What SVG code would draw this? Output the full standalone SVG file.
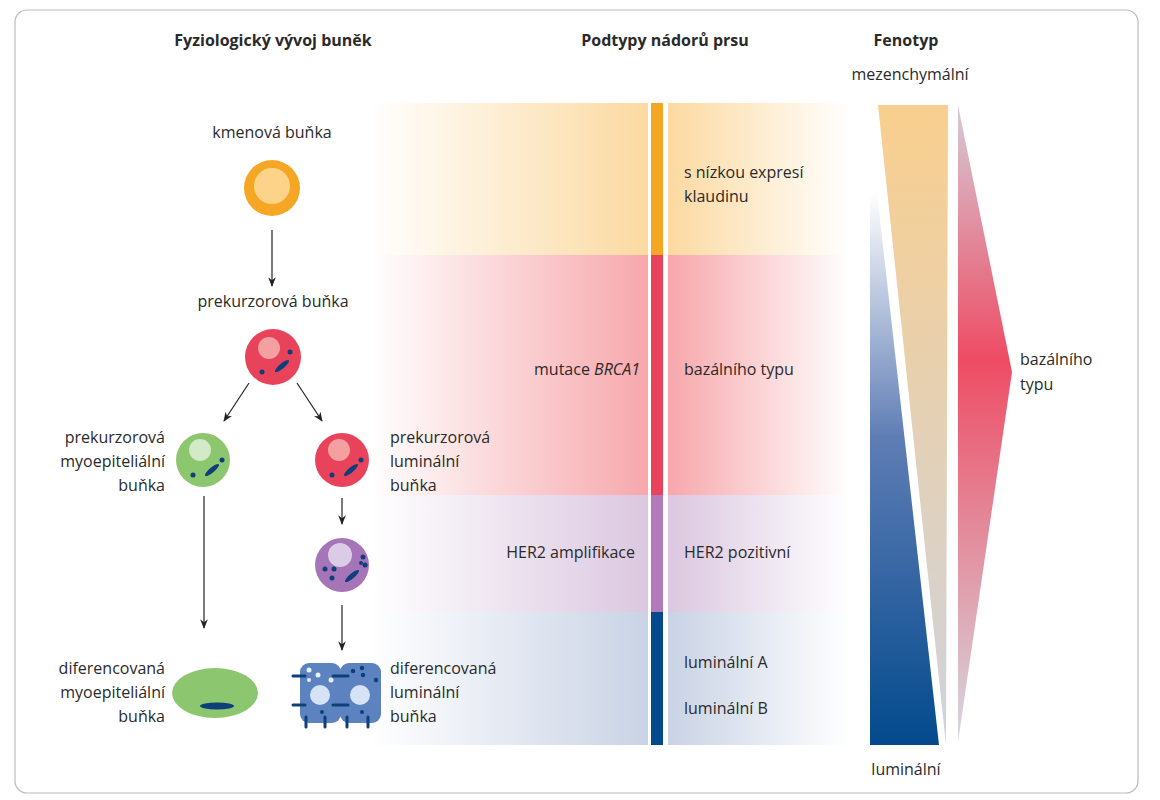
<svg xmlns="http://www.w3.org/2000/svg" width="1160" height="800" viewBox="0 0 1160 800">
<style>
text{font-family:"Open Sans","Liberation Sans",sans-serif;font-size:16px;fill:#2a2a2a}
.h{font-weight:bold;font-size:16px}
.ar{stroke:#222;stroke-width:1.2;fill:none;marker-end:url(#ah)}
.dot{fill:#0d3f7a}
</style>
<defs>
<marker id="ah" viewBox="0 0 10 10" refX="9" refY="5" markerWidth="8" markerHeight="8" orient="auto"><path d="M0,1 L10,5 L0,9 L3,5Z" fill="#222"/></marker>
<linearGradient id="fin" x1="0" x2="1"><stop offset="0" stop-color="#fff" stop-opacity="1"/><stop offset="1" stop-color="#fff" stop-opacity="0"/></linearGradient>
<linearGradient id="fout" x1="0" x2="1"><stop offset="0" stop-color="#fff" stop-opacity="0"/><stop offset="1" stop-color="#fff" stop-opacity="1"/></linearGradient>
<linearGradient id="gOr" x1="0" y1="0" x2="0" y2="1"><stop offset="0" stop-color="#f9cf8e"/><stop offset="1" stop-color="#cfd2dc"/></linearGradient>
<linearGradient id="gBl" x1="0" y1="0" x2="0" y2="1"><stop offset="0.1" stop-color="#fff"/><stop offset="0.5" stop-color="#5f7db5"/><stop offset="1" stop-color="#034a8d"/></linearGradient>
<linearGradient id="gRd" x1="0" y1="0" x2="0" y2="1"><stop offset="0" stop-color="#d5cbd6"/><stop offset="0.4" stop-color="#ee4c64"/><stop offset="1" stop-color="#d6d8df"/></linearGradient>
</defs>
<rect x="15" y="10" width="1123" height="783" rx="12" fill="#fff" stroke="#bbb" stroke-width="1.2"/>
<g id="bands">
<rect x="370" y="103" width="480" height="152" fill="#fcd9a0"/>
<rect x="370" y="255" width="480" height="240" fill="#f7a7ab"/>
<rect x="370" y="495" width="480" height="117" fill="#dbc7e0"/>
<rect x="370" y="612" width="480" height="133" fill="#c9d3e5"/>
<rect x="370" y="103" width="280" height="642" fill="url(#fin)"/>
<rect x="668" y="103" width="182" height="642" fill="url(#fout)"/>
<rect x="648" y="103" width="20" height="642" fill="#fff"/>
<rect x="651" y="103" width="12" height="152" fill="#f5a623"/>
<rect x="651" y="255" width="12" height="240" fill="#e8435a"/>
<rect x="651" y="495" width="12" height="117" fill="#b27ab8"/>
<rect x="651" y="612" width="12" height="133" fill="#034a8d"/>
</g>
<g id="fenotyp">
<polygon points="878,105 948,105 946,745" fill="url(#gOr)"/>
<polygon points="870,130 939,745 870,745" fill="url(#gBl)"/>
<polygon points="958,105 1012,372 958,742" fill="url(#gRd)"/>
</g>
<g id="headers">
<text class="h" x="273" y="46" text-anchor="middle">Fyziologický vývoj buněk</text>
<text class="h" x="665" y="46" text-anchor="middle">Podtypy nádorů prsu</text>
<text class="h" x="906" y="46" text-anchor="middle">Fenotyp</text>
<text x="910" y="80" text-anchor="middle">mezenchymální</text>
<text x="906" y="775" text-anchor="middle">luminální</text>
<text x="1020" y="365">bazálního</text>
<text x="1020" y="390">typu</text>
</g>
<g id="subtypes">
<text x="684" y="178">s nízkou expresí</text>
<text x="684" y="202">klaudinu</text>
<text x="684" y="375">bazálního typu</text>
<text x="684" y="558">HER2 pozitivní</text>
<text x="684" y="668">luminální A</text>
<text x="684" y="714">luminální B</text>
<text x="640" y="375" text-anchor="end">mutace <tspan font-style="italic">BRCA1</tspan></text>
<text x="635" y="558" text-anchor="end">HER2 amplifikace</text>
</g>
<g id="stem">
<text x="272" y="138" text-anchor="middle">kmenová buňka</text>
<circle cx="272" cy="188" r="28" fill="#f5a623"/><circle cx="272" cy="186" r="18" fill="#fdd38a"/>
</g>
<g id="precursor">
<text x="273" y="307" text-anchor="middle">prekurzorová buňka</text>
<circle cx="273" cy="357" r="28" fill="#e8435a"/><circle cx="269" cy="348" r="11" fill="#f5a0a0"/>
<circle class="dot" cx="262" cy="372" r="2.5"/><circle class="dot" cx="290" cy="352" r="2.5"/>
<ellipse class="dot" cx="282" cy="366" rx="9" ry="2.5" transform="rotate(-40 282 366)"/>
</g>
<g id="myoprec">
<text x="165" y="443" text-anchor="end">prekurzorová</text><text x="165" y="467" text-anchor="end">myoepiteliální</text><text x="165" y="491" text-anchor="end">buňka</text>
<circle cx="203" cy="460" r="27" fill="#8cc66e"/><circle cx="200" cy="450" r="11" fill="#d3e9c8"/>
<circle class="dot" cx="193" cy="475" r="2.5"/><circle class="dot" cx="222" cy="460" r="2.5"/>
<ellipse class="dot" cx="212" cy="470" rx="9" ry="2.5" transform="rotate(-40 212 470)"/>
</g>
<g id="lumprec">
<text x="390" y="443">prekurzorová</text><text x="390" y="467">luminální</text><text x="390" y="491">buňka</text>
<circle cx="342" cy="460" r="27" fill="#e8435a"/><circle cx="339" cy="450" r="11" fill="#f5a0a0"/>
<circle class="dot" cx="332" cy="475" r="2.5"/><circle class="dot" cx="361" cy="460" r="2.5"/>
<ellipse class="dot" cx="351" cy="470" rx="9" ry="2.5" transform="rotate(-40 351 470)"/>
</g>
<g id="her2cell">
<circle cx="342" cy="565" r="27" fill="#a674b8"/><circle cx="340" cy="555" r="12" fill="#dccbe6"/>
<circle class="dot" cx="325" cy="569" r="2.5"/><circle class="dot" cx="334" cy="569" r="2.5"/><circle class="dot" cx="332" cy="578" r="2.5"/>
<circle class="dot" cx="363" cy="557" r="2.5"/><circle class="dot" cx="365" cy="565" r="2.5"/><circle class="dot" cx="361" cy="563" r="2"/>
<ellipse class="dot" cx="352" cy="576" rx="9" ry="2.5" transform="rotate(-40 352 576)"/>
</g>
<g id="myodiff">
<text x="165" y="674" text-anchor="end">diferencovaná</text><text x="165" y="698" text-anchor="end">myoepiteliální</text><text x="165" y="722" text-anchor="end">buňka</text>
<ellipse cx="215" cy="693" rx="43" ry="25" fill="#8cc66e"/>
<ellipse class="dot" cx="217" cy="706" rx="17" ry="3.5"/>
</g>
<g id="lumdiff">
<text x="390" y="674">diferencovaná</text><text x="390" y="698">luminální</text><text x="390" y="722">buňka</text>
<rect x="300" y="663" width="41" height="60" rx="9" fill="#5d82c0"/>
<rect x="340" y="663" width="41" height="60" rx="9" fill="#5d82c0"/>
<circle cx="320" cy="695" r="10" fill="#d5e3f5"/><circle cx="360" cy="695" r="10" fill="#d5e3f5"/>
<circle cx="309" cy="670" r="2.5" fill="#e6eef9"/><circle cx="318" cy="675" r="2.5" fill="#e6eef9"/><circle cx="331" cy="680" r="2.5" fill="#e6eef9"/><circle cx="309" cy="680" r="2" fill="#e6eef9"/>
<circle class="dot" cx="353" cy="671" r="2.2"/><circle class="dot" cx="362" cy="668" r="2.2"/><circle class="dot" cx="363" cy="675" r="2.2"/><circle class="dot" cx="376" cy="680" r="2.2"/>
<circle class="dot" cx="322" cy="712" r="2"/><circle class="dot" cx="362" cy="712" r="2"/>
<g stroke="#0d3f7a" stroke-width="3" stroke-linecap="round">
<line x1="293" y1="676" x2="305" y2="676"/><line x1="293" y1="705" x2="305" y2="705"/>
<line x1="333" y1="676" x2="348" y2="676"/><line x1="333" y1="705" x2="348" y2="705"/>
<line x1="306" y1="717" x2="306" y2="727"/><line x1="325" y1="717" x2="325" y2="727"/><line x1="347" y1="717" x2="347" y2="727"/><line x1="368" y1="717" x2="368" y2="727"/>
</g>
</g>
<g id="connectors">
<line class="ar" x1="272" y1="230" x2="272" y2="286"/>
<line class="ar" x1="249" y1="383" x2="224" y2="421"/>
<line class="ar" x1="297" y1="383" x2="322" y2="421"/>
<line class="ar" x1="204" y1="496" x2="204" y2="628"/>
<line class="ar" x1="342" y1="498" x2="342" y2="524"/>
<line class="ar" x1="342" y1="605" x2="342" y2="650"/>
</g>
</svg>
